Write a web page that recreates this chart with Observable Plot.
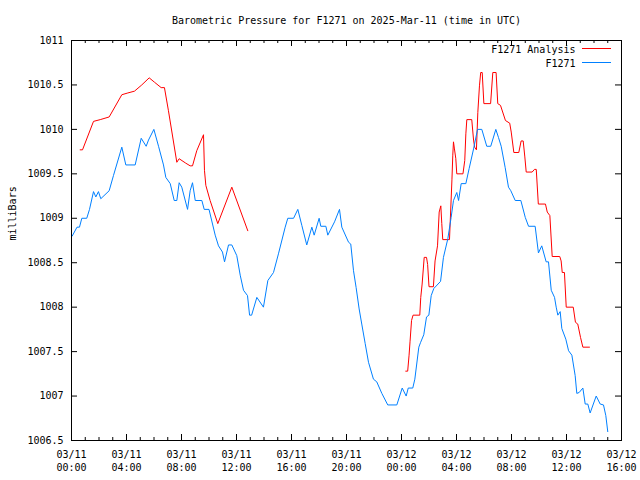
<!DOCTYPE html>
<html>
<head>
<meta charset="utf-8">
<script src="https://cdn.jsdelivr.net/npm/d3@7"></script>
<script src="https://cdn.jsdelivr.net/npm/@observablehq/plot@0.6"></script>
<style>
  html, body { margin: 0; padding: 0; background: #ffffff; }
</style>
</head>
<body>
<div id="chart"></div>
<script>
const titleText = "Barometric Pressure for F1271 on 2025-Mar-11 (time in UTC)";
const yLabel = "milliBars";
const seriesNames = ["F1271 Analysis", "F1271"];
const seriesColors = ["#ff0000", "#0080ff"];

// hours since 2025-03-11 00:00 UTC
const obsHours = [0.05,0.4,0.58,0.75,1.11,1.31,1.6,1.77,1.96,2.13,2.74,3.05,3.66,3.95,4.63,5.07,5.43,5.6,5.99,6.33,6.69,6.86,7.18,7.47,7.66,7.83,8.02,8.44,8.63,8.8,9.0,9.48,9.65,10.0,10.45,10.69,10.98,11.13,11.42,11.66,12.02,12.27,12.51,12.8,12.95,13.1,13.48,13.96,14.28,14.69,15.05,15.54,15.73,16.15,16.46,16.75,17.11,17.48,17.65,18.01,18.13,18.5,18.64,19.13,19.49,19.66,20.15,20.31,20.51,20.7,20.92,21.11,21.36,21.6,21.96,22.2,22.57,23.0,23.66,24.05,24.34,24.49,24.82,24.97,25.26,25.38,25.62,25.82,25.99,26.16,26.35,26.84,27.05,27.37,27.61,27.78,28.02,28.15,28.34,28.68,28.92,29.24,29.53,29.84,30.2,30.49,30.86,31.05,31.25,31.54,31.78,31.95,32.27,32.68,33.0,33.24,33.72,33.96,34.2,34.52,34.69,34.89,35.13,35.25,35.37,35.54,35.66,35.95,36.15,36.39,36.63,36.75,36.92,37.19,37.36,37.55,37.72,38.16,38.45,38.69,38.86,39.0];
const obsValues = [1008.8,1008.9,1008.9,1009.0,1009.0,1009.1,1009.3,1009.24,1009.3,1009.22,1009.31,1009.48,1009.8,1009.6,1009.6,1009.9,1009.81,1009.88,1010.0,1009.81,1009.6,1009.46,1009.39,1009.2,1009.2,1009.4,1009.35,1009.1,1009.31,1009.4,1009.2,1009.2,1009.1,1009.1,1008.81,1008.69,1008.62,1008.51,1008.7,1008.7,1008.58,1008.36,1008.19,1008.13,1007.91,1007.91,1008.11,1008.0,1008.3,1008.39,1008.6,1008.9,1009.0,1009.0,1009.1,1008.92,1008.7,1008.9,1008.81,1009.0,1008.91,1008.91,1008.81,1008.96,1009.1,1008.9,1008.73,1008.71,1008.41,1008.22,1007.98,1007.81,1007.59,1007.38,1007.19,1007.16,1007.03,1006.9,1006.9,1007.09,1007.0,1007.09,1007.09,1007.19,1007.55,1007.6,1007.69,1007.89,1007.91,1008.13,1008.21,1008.29,1008.56,1008.77,1009.01,1009.2,1009.29,1009.2,1009.39,1009.39,1009.56,1009.78,1010.0,1010.0,1009.81,1009.81,1010.0,1009.91,1009.81,1009.57,1009.35,1009.31,1009.2,1009.2,1009.01,1008.91,1008.91,1008.61,1008.69,1008.51,1008.51,1008.19,1008.11,1008.0,1007.91,1007.95,1007.76,1007.64,1007.51,1007.46,1007.23,1007.03,1007.04,1007.09,1006.91,1006.91,1006.81,1007.0,1006.91,1006.9,1006.78,1006.6];

// analysis series; null marks the gap in the record
const anaHours = [0.63,0.8,1.6,2.09,2.74,3.66,4.1,4.58,5.11,5.65,6.04,6.52,6.76,7.05,7.66,7.83,8.31,8.63,8.8,9.11,9.6,9.67,9.77,10.08,10.64,11.66,12.82,18.0,24.31,24.45,24.55,24.62,24.73,24.84,25.33,25.4,25.5,25.65,25.82,25.9,26.0,26.32,26.44,26.62,26.74,26.86,26.93,27.0,27.49,27.67,27.73,27.78,27.85,27.95,28.02,28.47,28.6,28.68,28.75,29.11,29.24,29.32,29.45,29.55,29.67,29.76,29.87,29.99,30.48,30.64,30.88,31.0,31.2,31.56,31.87,31.98,32.17,32.53,32.7,32.85,32.97,33.07,33.5,33.67,33.8,33.95,34.47,34.6,34.79,34.96,35.51,35.61,35.69,35.85,35.98,36.49,36.65,36.82,37.02,37.19,37.67];
const anaValues = [1009.77,1009.77,1010.09,1010.11,1010.14,1010.39,1010.41,1010.43,1010.5,1010.58,1010.53,1010.47,1010.47,1010.21,1009.63,1009.67,1009.62,1009.59,1009.59,1009.76,1009.94,1009.54,1009.37,1009.2,1008.94,1009.35,1008.86,null,1007.28,1007.28,1007.46,1007.61,1007.85,1007.91,1007.91,1008.11,1008.26,1008.56,1008.56,1008.48,1008.23,1008.23,1008.52,1008.69,1009.07,1009.14,1008.94,1008.76,1008.76,1009.44,1009.71,1009.86,1009.78,1009.67,1009.5,1009.5,1009.65,1009.95,1010.11,1010.11,1009.88,1009.8,1009.77,1010.19,1010.49,1010.64,1010.64,1010.29,1010.29,1010.64,1010.64,1010.29,1010.27,1010.1,1010.07,1009.97,1009.74,1009.74,1009.87,1009.87,1009.69,1009.52,1009.52,1009.55,1009.55,1009.16,1009.16,1009.07,1009.03,1008.57,1008.57,1008.52,1008.39,1008.39,1008.0,1008.0,1007.83,1007.81,1007.66,1007.55,1007.55];

const majorTickHours = [0,4,8,12,16,20,24,28,32,36,40];
const minorTickHours = d3.range(0, 41, 1);
const yTicks = [1006.5,1007,1007.5,1008,1008.5,1009,1009.5,1010,1010.5,1011];

const start = Date.UTC(2025, 2, 11);
const toDate = h => new Date(start + h * 3600e3);

const obs = obsHours.map((h, i) => ({t: toDate(h), p: obsValues[i]}));
const ana = anaHours.map((h, i) => ({t: toDate(h), p: anaValues[i] == null ? NaN : anaValues[i]}));
const majorX = majorTickHours.map(toDate);
const minorX = minorTickHours.map(toDate);

const W = 640, H = 480, mL = 71, mR = 19, mT = 40, mB = 40;
const fw = W - mL - mR, fh = H - mT - mB;

const fmtX = d3.utcFormat("%m/%d\n%H:%M");

// legend line samples, drawn relative to the frame's top-right corner
function legendSamples(index, scales, values, dims) {
  const g = d3.create("svg:g");
  const xr = dims.width - dims.marginRight;
  const yt = dims.marginTop;
  seriesColors.forEach((c, i) => {
    g.append("line")
      .attr("x1", xr - 39).attr("x2", xr - 10)
      .attr("y1", yt + 8.5 + 14 * i).attr("y2", yt + 8.5 + 14 * i)
      .attr("stroke", c).attr("stroke-width", 1);
  });
  return g.node();
}

const chart = Plot.plot({
  width: W, height: H,
  marginLeft: mL, marginRight: mR, marginTop: mT, marginBottom: mB,
  style: {fontFamily: "'DejaVu Sans Mono', 'Liberation Mono', monospace", fontSize: "10px", background: "#ffffff", color: "#000000"},
  x: {type: "utc", domain: [toDate(0), toDate(40)]},
  y: {domain: [1006.5, 1011]},
  marks: [
    Plot.line(ana, {x: "t", y: "p", stroke: seriesColors[0], strokeWidth: 1}),
    Plot.line(obs, {x: "t", y: "p", stroke: seriesColors[1], strokeWidth: 1}),
    Plot.frame({stroke: "#000000", strokeWidth: 1}),
    Plot.tickX(minorX, {x: d => d, insetTop: fh - 3, stroke: "#000"}),
    Plot.tickX(minorX, {x: d => d, insetBottom: fh - 3, stroke: "#000"}),
    Plot.tickX(majorX, {x: d => d, insetTop: fh - 6, stroke: "#000"}),
    Plot.tickX(majorX, {x: d => d, insetBottom: fh - 6, stroke: "#000"}),
    Plot.tickY(yTicks, {y: d => d, insetRight: fw - 6, stroke: "#000"}),
    Plot.tickY(yTicks, {y: d => d, insetLeft: fw - 6, stroke: "#000"}),
    Plot.axisX(majorX, {tickSize: 0, tickPadding: 8, tickFormat: fmtX, label: null, lineHeight: 1.3, fill: "#000"}),
    Plot.axisY(yTicks, {tickSize: 0, tickPadding: 8, tickFormat: d => String(d), label: null, fill: "#000"}),
    Plot.text([yLabel], {frameAnchor: "left", dx: -59, rotate: -90, fill: "#000"}),
    Plot.text([titleText], {frameAnchor: "top", dy: -24, fill: "#000"}),
    Plot.text([seriesNames[0]], {frameAnchor: "top-right", textAnchor: "end", dx: -46, dy: 5, fill: "#000"}),
    Plot.text([seriesNames[1]], {frameAnchor: "top-right", textAnchor: "end", dx: -46, dy: 19, fill: "#000"}),
    legendSamples
  ]
});
document.getElementById("chart").appendChild(chart);
</script>
</body>
</html>
